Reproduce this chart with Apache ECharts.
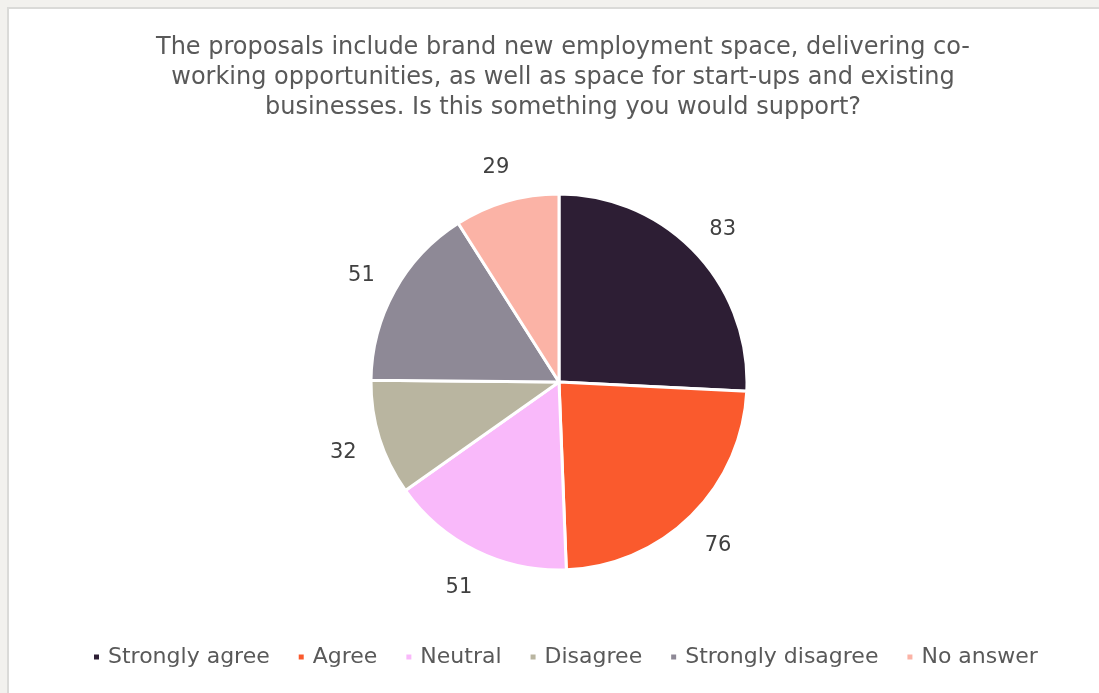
<!DOCTYPE html>
<html>
<head>
<meta charset="utf-8">
<script src="https://cdn.jsdelivr.net/npm/echarts@6/dist/echarts.min.js"></script>
<style>
  html, body { margin: 0; padding: 0; width: 1099px; height: 693px; background: #f2f1ee; overflow: hidden; }
  #frame { position: absolute; left: 7px; top: 7px; right: 0; bottom: 0; background: #ffffff;
           border-left: 2px solid #dadad8; border-top: 2px solid #dadad8; }
  #chart { position: absolute; left: 0; top: 0; width: 1099px; height: 693px; }
</style>
</head>
<body>
<div id="frame"></div>
<div id="chart"></div>
<script>
// Survey responses
const categories = ['Strongly agree', 'Agree', 'Neutral', 'Disagree', 'Strongly disagree', 'No answer'];
const responses = [83, 76, 51, 32, 51, 29];
const sliceColors = ['#2d1e34', '#fa5a2d', '#f9b9fa', '#b9b5a0', '#8e8996', '#fbb3a6'];

const titleText = 'The proposals include brand new employment space, delivering co-\n' +
  'working opportunities, as well as space for start-ups and existing\n' +
  'businesses. Is this something you would support?';

const pieData = categories.map((name, i) => ({
  name: name,
  value: responses[i],
  itemStyle: { color: sliceColors[i] }
}));

const font = '"DejaVu Sans", Verdana, sans-serif';
const center = [559, 382];
const R = 188;

const chart = echarts.init(document.getElementById('chart'), null, { renderer: 'canvas' });
chart.setOption({
  animation: false,
  color: sliceColors,
  title: {
    text: titleText,
    left: 558,
    textAlign: 'center',
    top: 28,
    textStyle: { fontFamily: font, fontSize: 24, fontWeight: 'normal', color: '#595959', lineHeight: 30 }
  },
  legend: {
    data: categories,
    bottom: 20,
    left: 87,
    icon: 'rect',
    itemWidth: 7,
    itemHeight: 7,
    itemGap: 27,
    textStyle: { fontFamily: font, fontSize: 22, color: '#595959', padding: [0, 0, 0, 3] }
  },
  series: [
    {
      name: 'responses',
      type: 'pie',
      center: center,
      radius: [0, R],
      startAngle: 90,
      clockwise: true,
      itemStyle: { borderColor: '#ffffff', borderWidth: 3 },
      label: { show: false },
      labelLine: { show: false },
      emphasis: { disabled: true },
      data: pieData
    },
    {
      // invisible ring that carries the value labels just outside the pie
      name: 'labels',
      type: 'pie',
      center: [center[0], center[1] + 3],
      radius: [R, R + 70],
      startAngle: 90,
      clockwise: true,
      silent: true,
      legendHoverLink: false,
      itemStyle: { color: 'rgba(0,0,0,0)' },
      label: {
        show: true,
        position: 'inside',
        formatter: '{c}',
        fontFamily: font,
        fontSize: 21,
        color: '#404040'
      },
      labelLine: { show: false },
      emphasis: { disabled: true },
      data: categories.map((name, i) => ({ name: name, value: responses[i] }))
    }
  ]
});
</script>
</body>
</html>
